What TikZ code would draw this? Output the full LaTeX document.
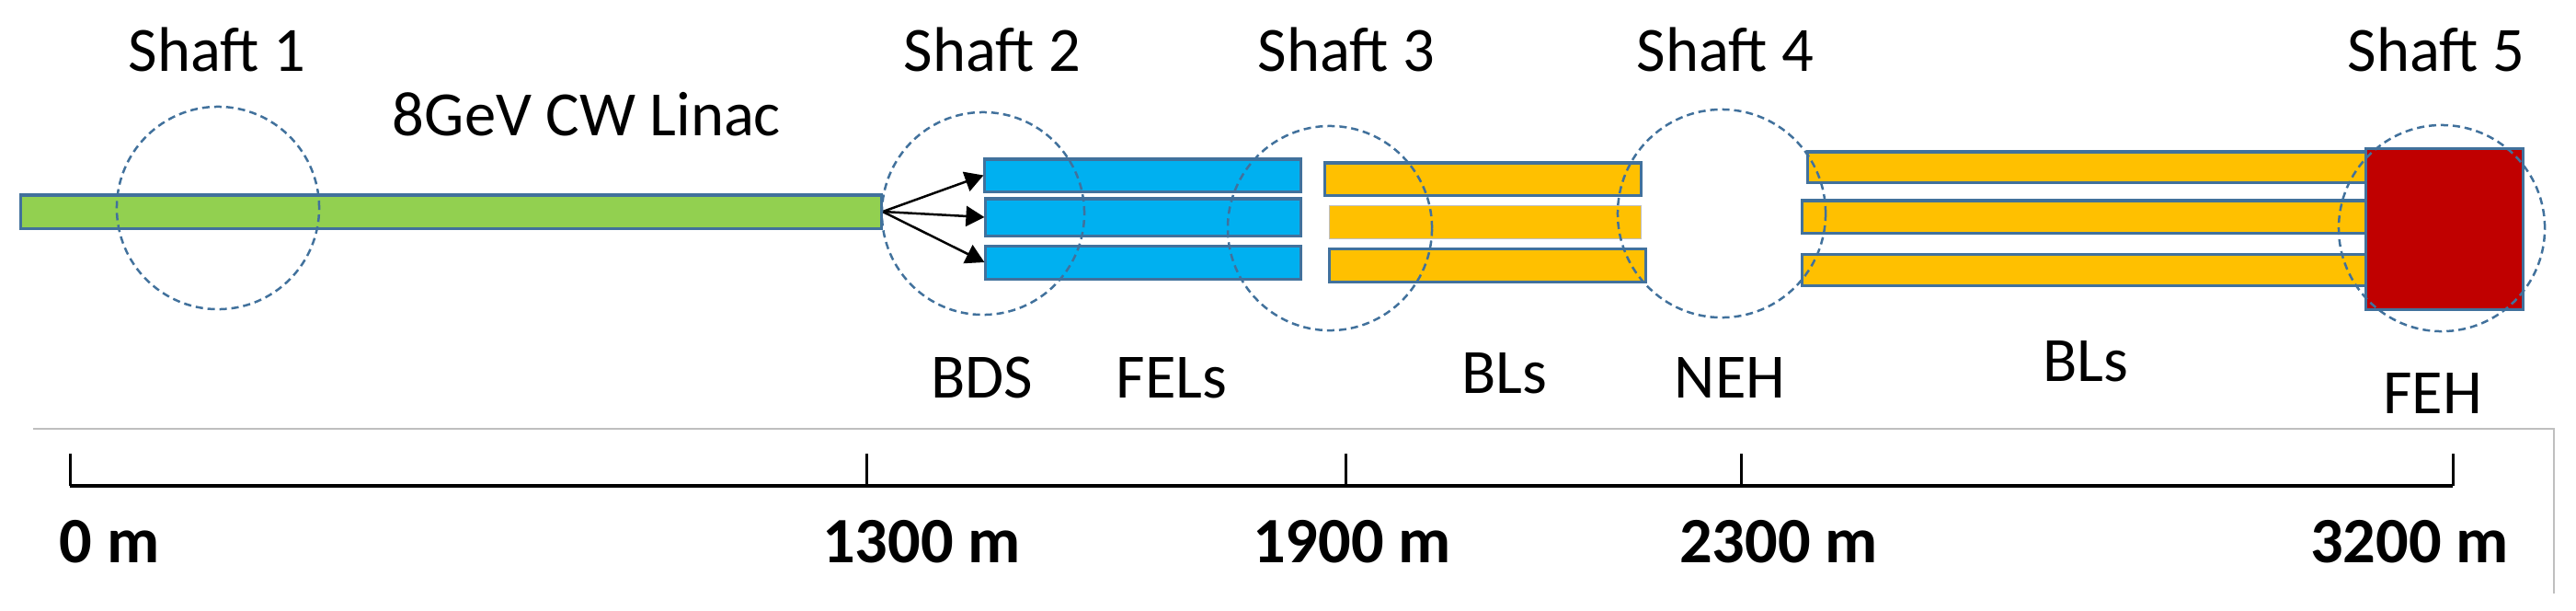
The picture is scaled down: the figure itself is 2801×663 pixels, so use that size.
\documentclass[tikz,border=0pt]{standalone}
\usepackage{fontspec}
\setmainfont{Carlito}
\usetikzlibrary{arrows.meta}
\definecolor{edgeblue}{HTML}{41719C}
\definecolor{linacgreen}{HTML}{92D050}
\definecolor{felblue}{HTML}{00B0F0}
\definecolor{blyellow}{HTML}{FFC000}
\definecolor{hallred}{HTML}{C00000}
\begin{document}
\begin{tikzpicture}[x=0.01cm,y=-0.01cm,font=\fontsize{19.5}{23}\selectfont,
  bar/.style={draw=edgeblue,line width=0.03cm,inner sep=0pt},
  ring/.style={circle,draw=edgeblue,line width=0.025cm,dash pattern=on 0.08cm off 0.05cm,inner sep=0pt},
  beam/.style={-{Triangle[length=0.2cm,width=0.22cm]},line width=0.025cm,black},
  scaleline/.style={line width=0.04cm,black},
  tick/.style={font=\fontsize{20}{24}\selectfont\bfseries,anchor=base}]
\useasboundingbox (0,0) rectangle (2801,663);
\foreach \name/\cx/\cy/\w/\h/\col in {linac/490.5/230/9.35/0.36/linacgreen,
  fel1/1242.5/190.5/3.43/0.35/felblue,fel2/1243/236/3.42/0.40/felblue,fel3/1243/285/3.42/0.36/felblue,
  bla/1612.5/194.5/3.43/0.35/blyellow,blc/1617.5/288/3.43/0.36/blyellow,
  blx/2270/181.5/6.08/0.33/blyellow,bly/2267/235.5/6.14/0.35/blyellow,blz/2267/293/6.14/0.34/blyellow,
  feh/2658/249/1.70/1.74/hallred}
  \node[bar,fill=\col,minimum width=\w cm,minimum height=\h cm] (\name) at (\cx,\cy) {};
\node[bar,draw=gray!50,line width=0.01cm,fill=blyellow,minimum width=3.38cm,minimum height=0.36cm] (blb) at (1615,241) {};
\foreach \t in {fel1,fel2,fel3} \draw[beam] (linac.east) -- (\t.west);
\foreach \i/\cx/\cy/\d in {1/237/226/2.20,2/1069/232/2.20,3/1446/248/2.22,4/1872/232/2.26,5/2655/248/2.24}
  \node[ring,minimum size=\d cm] (ring\i) at (\cx,\cy) {};
\foreach \i/\cx in {1/236,2/1079,3/1464,4/1876,5/2649}
  \node[anchor=base] (shaft\i) at (\cx,77) {Shaft \i};
\node[anchor=base] (linaclabel) at (638,147) {8GeV CW Linac};
\foreach \name/\cx/\cy/\txt in {bds/1068/432/BDS,fels/1274/432/FELs,bls/1636/427/BLs,neh/1881/432/NEH,blsb/2268/414/BLs,fehlabel/2645/449/FEH}
  \node[anchor=base] (\name) at (\cx,\cy) {\txt};
% scale
\draw[gray!50,line width=0.015cm] (36,466) -- (2777,466) -- (2777,645);
\draw[scaleline] (76,528) -- (2667,528);
\foreach \x in {76,942,1463,1893,2667} \draw[scaleline,line width=0.03cm] (\x,493) -- (\x,528);
\foreach \name/\cx/\txt in {m0/119/0 m,m1300/1002/1300 m,m1900/1470/1900 m,m2300/1934/2300 m,m3200/2620/3200 m}
  \node[tick] (\name) at (\cx,611) {\txt};
\end{tikzpicture}
\end{document}
